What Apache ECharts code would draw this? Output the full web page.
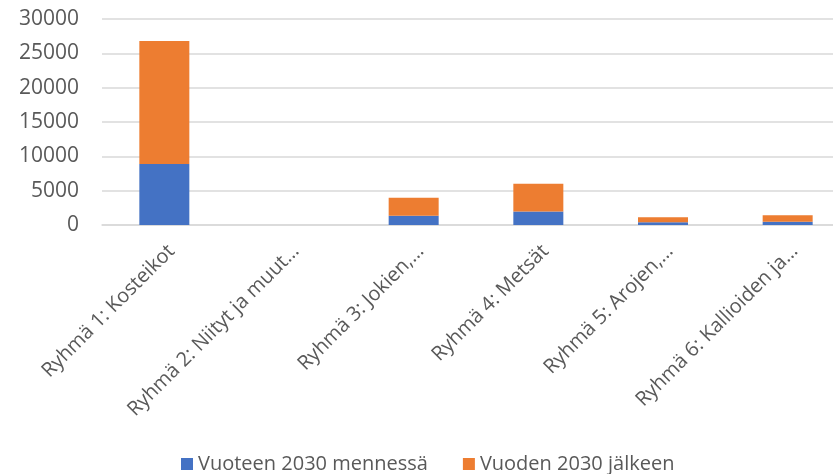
<!DOCTYPE html>
<html>
<head>
<meta charset="utf-8">
<script src="https://cdn.jsdelivr.net/npm/echarts@6/dist/echarts.min.js"></script>
<style>
html,body{margin:0;padding:0;background:#fff;overflow:hidden;}
#chart{width:850px;height:474px;}
</style>
</head>
<body>
<div id="chart"></div>
<script>
const categories = [
  "Ryhmä 1: Kosteikot",
  "Ryhmä 2: Niityt ja muut…",
  "Ryhmä 3: Jokien,…",
  "Ryhmä 4: Metsät",
  "Ryhmä 5: Arojen,…",
  "Ryhmä 6: Kallioiden ja…"
];
const seriesNames = ["Vuoteen 2030 mennessä", "Vuoden 2030 jälkeen"];
const before2030 = [8900, 0, 1350, 1950, 400, 480];
const after2030 = [17900, 0, 2630, 4050, 720, 930];

const chart = echarts.init(document.getElementById('chart'));
const font = "'Open Sans', 'Liberation Sans', sans-serif";
chart.setOption({
  animation: false,
  textStyle: { fontFamily: font },
  grid: { left: 102, right: 0, top: 19, bottom: 249, containLabel: false },
  legend: {
    top: 449,
    left: 176,
    itemWidth: 12,
    itemHeight: 12,
    itemGap: 35,
    icon: 'rect',
    textStyle: { color: '#595959', fontSize: 20, fontFamily: font },
    data: seriesNames
  },
  xAxis: {
    type: 'category',
    data: categories,
    axisLine: { lineStyle: { color: '#D9D9D9', width: 1.5 } },
    axisTick: { show: false },
    axisLabel: { rotate: 45, interval: 0, margin: 16, align: 'right', verticalAlign: 'top', color: '#595959', fontSize: 20, fontFamily: font }
  },
  yAxis: {
    type: 'value',
    min: 0,
    max: 30000,
    interval: 5000,
    axisLine: { show: false },
    axisTick: { show: false },
    splitLine: { lineStyle: { color: '#D9D9D9', width: 1.5 } },
    axisLabel: { margin: 23, color: '#595959', fontSize: 21, fontFamily: font, formatter: function (v) { return String(v); } }
  },
  series: [
    { name: seriesNames[0], type: 'bar', stack: 'a', barWidth: 50, data: before2030, itemStyle: { color: '#4472C4' } },
    { name: seriesNames[1], type: 'bar', stack: 'a', barWidth: 50, data: after2030, itemStyle: { color: '#ED7D31' } }
  ]
});
</script>
</body>
</html>
